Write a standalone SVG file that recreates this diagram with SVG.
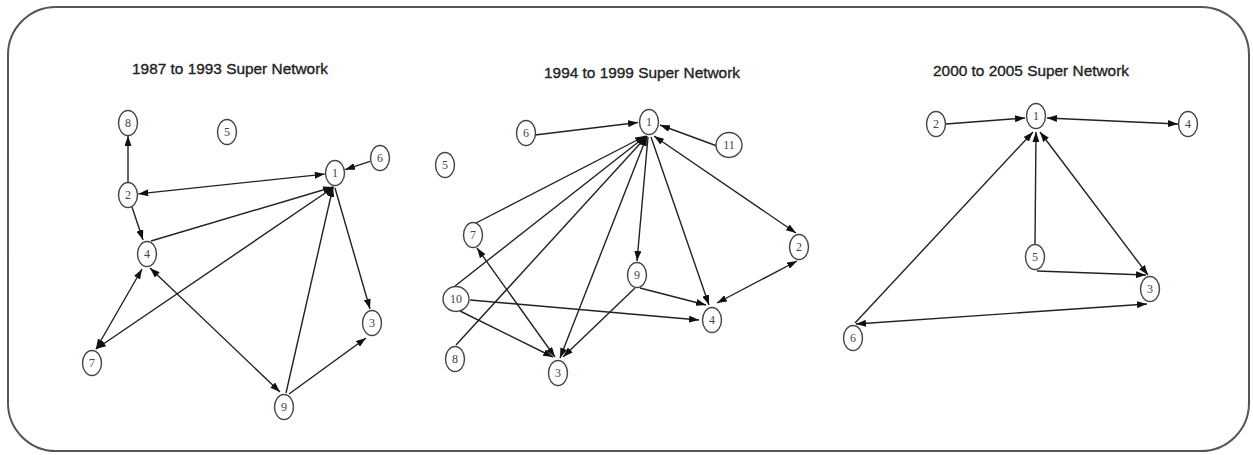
<svg xmlns="http://www.w3.org/2000/svg" width="1253" height="455" viewBox="0 0 1253 455">
<style>
.frame{fill:#fff;stroke:#555;stroke-width:2}
.title{font-family:"Liberation Sans",Arial,sans-serif;font-size:15.4px;fill:#222;stroke:#222;stroke-width:0.35;text-anchor:middle}
.node ellipse{fill:#fff;stroke:#444;stroke-width:1.4}
.node text{font-family:"Liberation Serif","Times New Roman",serif;font-size:12px;fill:#444;text-anchor:middle}
.edges line{stroke:#222;stroke-width:1.4;fill:none}
</style>
<defs>
<marker id="ah" viewBox="0 0 10 7" refX="10" refY="3.5" markerWidth="10" markerHeight="7" markerUnits="userSpaceOnUse" orient="auto-start-reverse">
<path d="M0,0 L10,3.5 L0,7 z" fill="#111"/>
</marker>
</defs>
<rect class="frame" x="8" y="7" width="1241" height="444" rx="48" ry="48"/>
<text class="title" x="230" y="74">1987 to 1993 Super Network</text>
<text class="title" x="642" y="78">1994 to 1999 Super Network</text>
<text class="title" x="1031" y="76">2000 to 2005 Super Network</text>

<g id="connectors" class="edges">
<!-- network 1 -->
<line x1="128" y1="182" x2="128" y2="136" marker-end="url(#ah)"/>
<line x1="138.3" y1="193.9" x2="324.7" y2="174.1" marker-start="url(#ah)" marker-end="url(#ah)"/>
<line x1="370" y1="161.3" x2="345" y2="169.7" marker-end="url(#ah)"/>
<line x1="132" y1="207" x2="143" y2="240" marker-end="url(#ah)"/>
<line x1="151" y1="241" x2="333" y2="187" marker-end="url(#ah)"/>
<line x1="96" y1="349" x2="334" y2="187" marker-start="url(#ah)" marker-end="url(#ah)"/>
<line x1="96" y1="349" x2="142" y2="269" marker-start="url(#ah)" marker-end="url(#ah)"/>
<line x1="150" y1="268" x2="280" y2="392" marker-start="url(#ah)" marker-end="url(#ah)"/>
<line x1="286" y1="393" x2="333" y2="187"  marker-end="url(#ah)"/>
<line x1="289" y1="394" x2="366" y2="338" marker-end="url(#ah)"/>
<line x1="335" y1="188" x2="370" y2="309" marker-end="url(#ah)"/>
<!-- network 2 -->
<line x1="535" y1="135" x2="638" y2="122.5" marker-end="url(#ah)"/>
<line x1="717" y1="146" x2="660" y2="125" marker-end="url(#ah)"/>
<line x1="476" y1="223" x2="645" y2="136" marker-end="url(#ah)"/>
<line x1="455" y1="286" x2="646" y2="136" marker-end="url(#ah)"/>
<line x1="456" y1="345" x2="647" y2="136" marker-end="url(#ah)"/>
<line x1="647" y1="136" x2="560" y2="358" marker-start="url(#ah)" marker-end="url(#ah)"/>
<line x1="648" y1="137" x2="637" y2="261" marker-end="url(#ah)"/>
<line x1="651" y1="137" x2="709" y2="305" marker-end="url(#ah)"/>
<line x1="654" y1="136" x2="796" y2="233" marker-start="url(#ah)" marker-end="url(#ah)"/>
<line x1="477" y1="248" x2="555" y2="357" marker-start="url(#ah)" marker-end="url(#ah)"/>
<line x1="470" y1="300" x2="699" y2="320" marker-end="url(#ah)"/>
<line x1="460" y1="311" x2="553" y2="357" marker-end="url(#ah)"/>
<line x1="635" y1="288" x2="563" y2="357" marker-end="url(#ah)"/>
<line x1="640" y1="288" x2="706" y2="305" marker-end="url(#ah)"/>
<line x1="717" y1="303" x2="797" y2="261" marker-start="url(#ah)" marker-end="url(#ah)"/>
<!-- network 3 -->
<line x1="946" y1="124" x2="1025" y2="118" marker-end="url(#ah)"/>
<line x1="1047" y1="118" x2="1178" y2="124" marker-start="url(#ah)" marker-end="url(#ah)"/>
<line x1="855" y1="323" x2="1033" y2="132" marker-end="url(#ah)"/>
<line x1="1035" y1="245" x2="1036" y2="132" marker-end="url(#ah)"/>
<line x1="1040" y1="132" x2="1148" y2="275" marker-start="url(#ah)" marker-end="url(#ah)"/>
<line x1="1037" y1="271" x2="1146" y2="275" marker-end="url(#ah)"/>
<line x1="1147" y1="304" x2="856" y2="324" marker-start="url(#ah)" marker-end="url(#ah)"/>
</g>

<!-- network 1 nodes -->
<g id="n1-1" class="node"><ellipse cx="335" cy="173" rx="9.5" ry="12.5"/><text x="335" y="177">1</text></g>
<g id="n1-2" class="node"><ellipse cx="128" cy="195" rx="9.5" ry="12.5"/><text x="128" y="199">2</text></g>
<g id="n1-3" class="node"><ellipse cx="372" cy="323" rx="9.5" ry="12.5"/><text x="372" y="327">3</text></g>
<g id="n1-4" class="node"><ellipse cx="147" cy="254" rx="9.5" ry="12.5"/><text x="147" y="258">4</text></g>
<g id="n1-5" class="node"><ellipse cx="227" cy="132" rx="9.5" ry="12.5"/><text x="227" y="136">5</text></g>
<g id="n1-6" class="node"><ellipse cx="380" cy="158" rx="9.5" ry="12.5"/><text x="380" y="162">6</text></g>
<g id="n1-7" class="node"><ellipse cx="92" cy="363" rx="9.5" ry="12.5"/><text x="92" y="367">7</text></g>
<g id="n1-8" class="node"><ellipse cx="128" cy="123" rx="9.5" ry="12.5"/><text x="128" y="127">8</text></g>
<g id="n1-9" class="node"><ellipse cx="284" cy="407" rx="9.5" ry="12.5"/><text x="284" y="411">9</text></g>

<!-- network 2 nodes -->
<g id="n2-1" class="node"><ellipse cx="649" cy="122" rx="9.5" ry="12.5"/><text x="649" y="126">1</text></g>
<g id="n2-2" class="node"><ellipse cx="799" cy="247" rx="9.5" ry="12.5"/><text x="799" y="251">2</text></g>
<g id="n2-3" class="node"><ellipse cx="558" cy="373" rx="9.5" ry="12.5"/><text x="558" y="377">3</text></g>
<g id="n2-4" class="node"><ellipse cx="712" cy="320" rx="9.5" ry="12.5"/><text x="712" y="324">4</text></g>
<g id="n2-5" class="node"><ellipse cx="445" cy="165" rx="9.5" ry="12.5"/><text x="445" y="169">5</text></g>
<g id="n2-6" class="node"><ellipse cx="526" cy="133" rx="9.5" ry="12.5"/><text x="526" y="137">6</text></g>
<g id="n2-7" class="node"><ellipse cx="473" cy="235" rx="9.5" ry="12.5"/><text x="473" y="239">7</text></g>
<g id="n2-8" class="node"><ellipse cx="455" cy="359" rx="9.5" ry="12.5"/><text x="455" y="363">8</text></g>
<g id="n2-9" class="node"><ellipse cx="637" cy="275" rx="9.5" ry="12.5"/><text x="637" y="279">9</text></g>
<g id="n2-10" class="node"><ellipse cx="456" cy="299" rx="13" ry="12.5"/><text x="456" y="303">10</text></g>
<g id="n2-11" class="node"><ellipse cx="729" cy="145" rx="13" ry="12.5"/><text x="729" y="149">11</text></g>

<!-- network 3 nodes -->
<g id="n3-1" class="node"><ellipse cx="1036" cy="116" rx="9.5" ry="12.5"/><text x="1036" y="120">1</text></g>
<g id="n3-2" class="node"><ellipse cx="936" cy="124" rx="9.5" ry="12.5"/><text x="936" y="128">2</text></g>
<g id="n3-3" class="node"><ellipse cx="1150" cy="289" rx="9.5" ry="12.5"/><text x="1150" y="293">3</text></g>
<g id="n3-4" class="node"><ellipse cx="1188" cy="124" rx="9.5" ry="12.5"/><text x="1188" y="128">4</text></g>
<g id="n3-5" class="node"><ellipse cx="1035" cy="257" rx="9.5" ry="12.5"/><text x="1035" y="261">5</text></g>
<g id="n3-6" class="node"><ellipse cx="853" cy="338" rx="9.5" ry="12.5"/><text x="853" y="342">6</text></g>
</svg>
